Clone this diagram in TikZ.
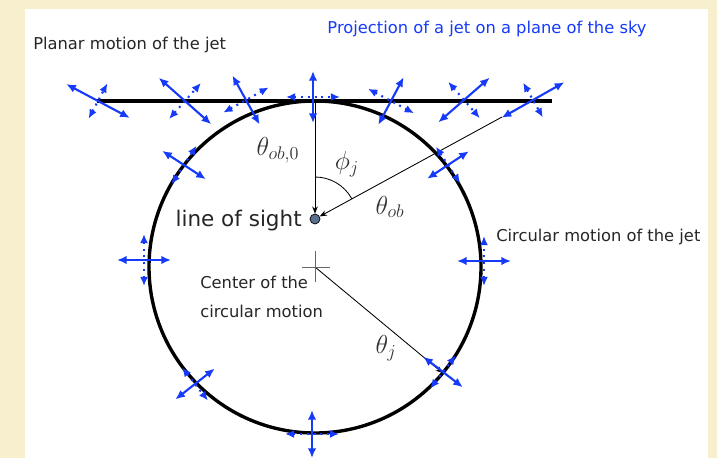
\RequirePackage{fix-cm}
\documentclass[tikz,border=0pt]{standalone}
\usepackage[no-math]{fontspec}
\setmainfont{DejaVu Sans}
\usetikzlibrary{arrows.meta,calc}
\definecolor{jetblue}{RGB}{22,58,250}
\definecolor{parch}{RGB}{247,239,205}
\definecolor{losfill}{RGB}{92,112,142}
\newcommand{\cimkebetu}{\fontsize{11.6}{14}\selectfont}
\newcommand{\kepbetu}{\fontsize{18.5}{20}\selectfont}
% jet marker: centre, angle, solid half length, dotted half length
\newcommand{\jetmark}[4]{%
  \draw[jetsol] ($(#1)+(#2:#3)$) -- ($(#1)+(#2+180:#3)$);
  \draw[jetdot] ($(#1)+(#2+90:#4)$) -- ($(#1)+(#2-90:#4)$);}
\tikzset{
  jetsol/.style={draw=jetblue,line width=1.5pt,
    {Latex[length=2.4mm,width=2.1mm]}-{Latex[length=2.4mm,width=2.1mm]}},
  jetdot/.style={draw=jetblue,line width=1.5pt,dash pattern=on 1.4pt off 3.4pt,
    {Latex[length=2.3mm,width=2mm]}-{Latex[length=2.3mm,width=2mm]}},
  fin/.style={line width=0.6pt},
  vastag/.style={line width=2.4pt},
  nyilveg/.style={-{Stealth[length=1.8mm,width=1.4mm]}},
  cimke/.style={font=\cimkebetu,text=black!85,inner sep=0pt},
  kep/.style={font=\kepbetu,text=black!80,inner sep=0pt},
  losdot/.style={circle,draw,fill=losfill,minimum size=0.25cm,inner sep=0pt,line width=0.5pt},
}

\begin{document}
\begin{tikzpicture}[x=0.025cm,y=-0.025cm]
  \useasboundingbox (0,0) rectangle (717,458);
  \fill[parch] (0,0) rectangle (717,458);
  \fill[white] (25,9) rectangle (708,458);
  % texts
  \node[cimke,text=jetblue] (cim) at (487,29) {Projection of a jet on a plane of the sky};
  \node[cimke,anchor=west] (sik) at (33,45) {Planar motion of the jet};
  \node[cimke,anchor=west] (kor) at (496,237) {Circular motion of the jet};
  \node[anchor=east,inner sep=0pt,font=\fontsize{15.3}{17}\selectfont,text=black!85]
    (losl) at (302,221) {line of sight};
  \node[cimke,anchor=west] (kp1) at (200,282) {Center of the};
  \node[cimke,anchor=west] (kp2) at (200,311) {circular motion};
  \node[kep] (tob0) at (278,150) {$\theta_{ob,0}$};
  \node[kep] (phij) at (347,164) {$\phi_j$};
  \node[kep] (tob) at (390,207) {$\theta_{ob}$};
  \node[kep] (tj) at (386,348) {$\theta_j$};
  % plane, circle and angles
  \coordinate (C) at (315,267);
  \coordinate (top) at (315,101);
  \coordinate (sbal) at (97,101);
  \coordinate (sjobb) at (552,101);
  \coordinate (lob) at (502,117);
  \coordinate (jpt) at ($(C)+(39.7:166)$);
  \draw[vastag] (sbal) -- (sjobb);
  \draw[vastag] (C) circle[radius=166];
  \node[losdot] (los) at (315,219) {};
  \draw[fin,nyilveg] (top) -- (los);
  \draw[fin,nyilveg] (lob) -- (los);
  \draw[fin,nyilveg] (C) -- (jpt);
  \draw[fin] ($(los)+(-90:42)$) arc[start angle=-90,end angle=-29,radius=42];
  \draw[black!60,line width=0.6pt] ($(C)+(-13,0)$) -- ($(C)+(15,0)$)
    ($(C)+(0,-16)$) -- ($(C)+(0,15)$);
  % jets along the plane
  \jetmark{98,101}{28}{36}{20}
  \jetmark{185,101}{41.5}{35}{24}
  \jetmark{246,100}{61}{28}{26}
  \jetmark{313,97}{90}{26}{27}
  \jetmark{391,101}{118}{27}{26}
  \jetmark{464,100}{139}{34}{24}
  \jetmark{533,100}{150.5}{36}{20}
  % jets along the circle
  \jetmark{184,165}{33}{26}{23}
  \jetmark{448,165}{146.6}{25}{22}
  \jetmark{144,260}{0}{27}{26}
  \jetmark{484,261}{0}{27}{25}
  \jetmark{195,384}{142}{25}{21}
  \jetmark{443,372}{37.6}{25}{21}
  \jetmark{312,434}{90}{24}{27}
\end{tikzpicture}
\end{document}
